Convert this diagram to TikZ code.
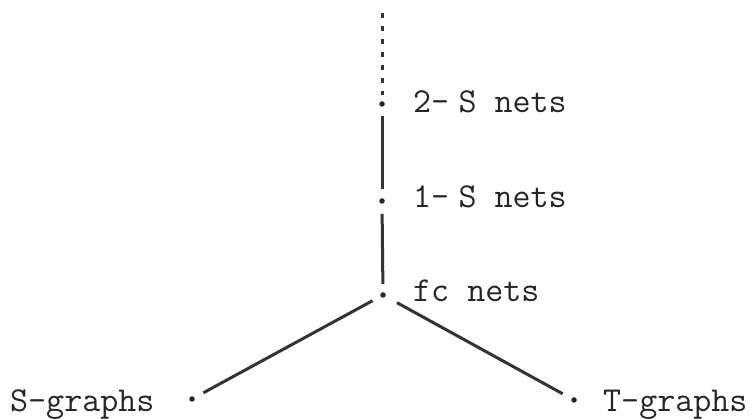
\documentclass[tikz,border=0pt]{standalone}
\usepackage{fontspec}
\begin{document}
\begin{tikzpicture}[x=1pt,y=-1pt,
  dotnode/.style={circle,fill=black!85,inner sep=0pt,minimum size=5.5pt},
  lbl/.style={anchor=base west,inner sep=0pt,font=\fontsize{35}{35}\selectfont\ttfamily,text=black!85},
  edge/.style={draw=black!80,line width=3pt},
  dashedge/.style={draw=black!80,line width=3pt,dash pattern=on 5pt off 8pt}]
\useasboundingbox (0,0) rectangle (756,419);
\coordinate (top) at (382,13);
\node[dotnode] (s2) at (382,104) {};
\node[dotnode] (s1) at (382,201) {};
\node[dotnode] (fc) at (383,295) {};
\node[dotnode] (sg) at (192,399) {};
\node[dotnode] (tg) at (574,400) {};
\draw[dashedge,shorten >=6pt] (top) -- (s2);
\draw[edge,shorten <=9pt,shorten >=9pt] (s2) -- (s1);
\draw[edge,shorten <=10pt,shorten >=8pt] (s1) -- (fc);
\draw[edge,shorten <=9pt,shorten >=10pt] (fc) -- (sg);
\draw[edge,shorten <=13pt,shorten >=10pt] (fc) -- (tg);
\node[lbl] (l2) at (413,113) {2-\kern-0.25em{} S nets};
\node[lbl] (l1) at (413,208) {1-\kern-0.25em{} S nets};
\node[lbl] (lfc) at (413,302) {fc nets};
\node[lbl] (lsg) at (10,412) {S-graphs};
\node[lbl] (ltg) at (603,412) {T-graphs};
\end{tikzpicture}
\end{document}
